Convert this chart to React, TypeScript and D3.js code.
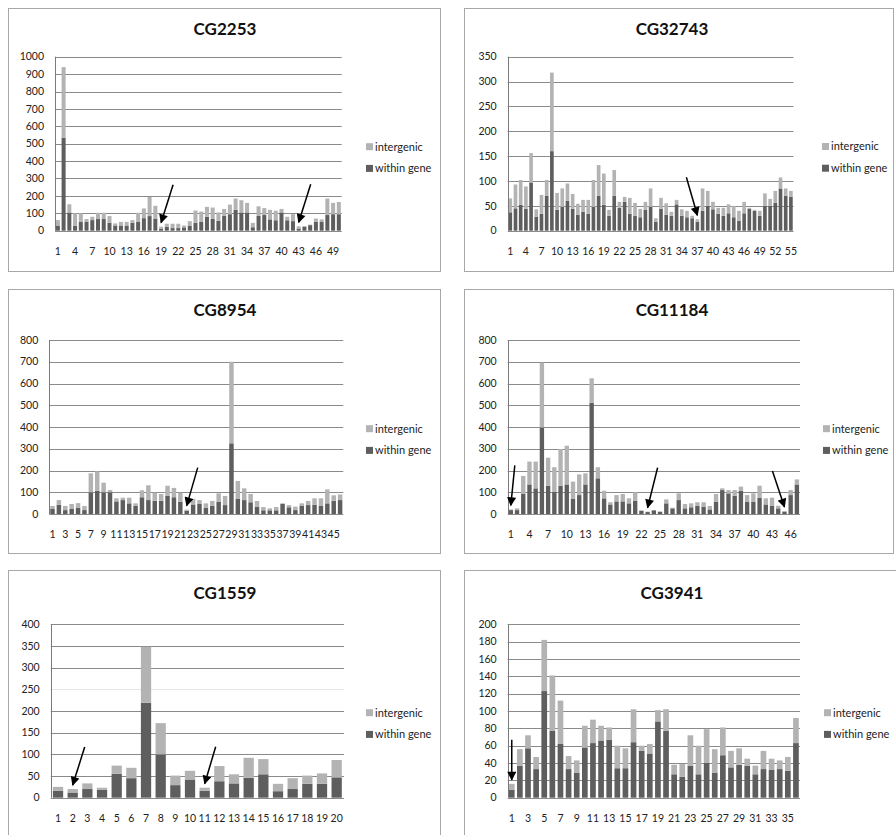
import React from "react";
import * as d3 from "d3";

// ---------- data: "within gene" and "intergenic" counts per position ----------
const cg2253Within = [30, 535, 105, 29, 50, 50, 61, 67, 67, 46, 30, 30, 30, 46, 50, 72, 84, 70, 11, 23, 15, 15, 19, 27, 46, 50, 80, 69, 57, 85, 95, 120, 105, 105, 20, 85, 90, 65, 60, 105, 60, 55, 12, 22, 32, 50, 50, 90, 95, 95];
const cg2253Intergenic = [31, 405, 47, 71, 50, 17, 19, 36, 36, 38, 12, 21, 21, 15, 53, 56, 110, 73, 12, 17, 25, 25, 11, 28, 70, 60, 57, 64, 48, 40, 55, 65, 70, 55, 25, 55, 40, 55, 55, 20, 20, 40, 13, 5, 3, 20, 15, 95, 65, 70];

const cg32743Within = [37, 45, 52, 44, 97, 28, 34, 70, 160, 42, 48, 60, 44, 32, 38, 34, 48, 70, 52, 30, 70, 46, 58, 34, 30, 27, 42, 48, 18, 44, 32, 30, 53, 30, 27, 25, 18, 40, 50, 43, 34, 30, 35, 27, 20, 35, 44, 40, 30, 50, 50, 56, 85, 70, 68];
const cg32743Intergenic = [28, 48, 50, 45, 59, 15, 38, 32, 158, 34, 37, 35, 30, 22, 24, 28, 54, 62, 63, 12, 52, 12, 10, 32, 26, 17, 16, 37, 7, 22, 23, 8, 9, 13, 13, 5, 5, 45, 30, 15, 12, 16, 18, 23, 20, 23, 2, 2, 10, 25, 14, 24, 22, 15, 12];

const cg8954Within = [23, 43, 18, 23, 28, 18, 100, 107, 100, 100, 58, 64, 49, 38, 77, 64, 61, 61, 84, 77, 57, 15, 44, 46, 28, 38, 57, 41, 325, 69, 64, 54, 34, 17, 17, 17, 47, 31, 18, 37, 41, 43, 37, 49, 61, 64];
const cg8954Intergenic = [14, 21, 19, 23, 22, 19, 87, 89, 44, 10, 14, 11, 26, 11, 32, 68, 37, 31, 46, 43, 41, 5, 26, 18, 21, 22, 38, 42, 375, 83, 54, 38, 26, 15, 9, 15, 2, 10, 16, 12, 19, 29, 35, 64, 25, 26];

const cg11184Within = [18, 18, 92, 136, 118, 398, 130, 103, 130, 136, 69, 87, 136, 512, 164, 72, 44, 58, 58, 49, 60, 14, 9, 17, 10, 49, 26, 64, 26, 31, 37, 34, 21, 57, 110, 95, 84, 107, 57, 57, 75, 44, 37, 26, 11, 87, 136];
const cg11184Intergenic = [3, 8, 83, 105, 123, 298, 129, 112, 169, 178, 80, 95, 51, 112, 51, 35, 10, 29, 34, 23, 40, 3, 2, 1, 2, 18, 3, 31, 20, 18, 17, 20, 16, 35, 8, 15, 26, 19, 30, 38, 55, 28, 38, 12, 3, 23, 23];

const cg1559Within = [16, 12, 20, 18, 55, 45, 219, 100, 29, 42, 16, 38, 33, 46, 54, 15, 20, 32, 32, 47];
const cg1559Intergenic = [9, 8, 13, 5, 19, 24, 129, 72, 22, 20, 7, 35, 21, 46, 35, 17, 25, 19, 24, 40];

const cg3941Within = [9, 37, 57, 33, 123, 77, 62, 33, 29, 58, 63, 66, 67, 34, 34, 64, 54, 51, 88, 77, 27, 24, 37, 27, 40, 29, 49, 35, 38, 37, 27, 33, 32, 33, 31, 63];
const cg3941Intergenic = [7, 19, 15, 14, 59, 64, 50, 15, 14, 25, 27, 17, 14, 26, 23, 38, 6, 11, 13, 25, 11, 15, 35, 33, 39, 27, 32, 19, 19, 8, 10, 21, 13, 10, 16, 29];

const seriesNames = ["intergenic", "within gene"];

// ---------- styles ----------
const DARK = "#5e5e5e";
const LIGHT = "#b3b3b3";
const GRID = "#8a8a8a";
const FONT = "Lato, 'Open Sans', 'DejaVu Sans', sans-serif";

type Arrow = { bar: number; dx: number; dy: number };
type PanelCfg = {
  title: string;
  within: number[];
  intergenic: number[];
  yMax: number;
  yStep: number;
  labelEvery: number;
  box: [number, number, number, number];
  plot: { left: number; right: number; top: number; bottom: number };
  titleX: number;
  titleY: number;
  legendX: number;
  legendY: number;
  arrows: Arrow[];
  faintTick?: number;
};

const panels: PanelCfg[] = [
  {
    title: "CG2253", within: cg2253Within, intergenic: cg2253Intergenic,
    yMax: 1000, yStep: 100, labelEvery: 3,
    box: [8, 8, 432, 263], plot: { left: 55, right: 341.7, top: 56.7, bottom: 230.7 },
    titleX: 225, titleY: 35, legendX: 366, legendY: 146.7,
    arrows: [{ bar: 19, dx: 12, dy: -38 }, { bar: 43, dx: 12, dy: -38 }],
  },
  {
    title: "CG32743", within: cg32743Within, intergenic: cg32743Intergenic,
    yMax: 350, yStep: 50, labelEvery: 3,
    box: [464, 8, 429, 263], plot: { left: 507.7, right: 793.5, top: 56.7, bottom: 230.7 },
    titleX: 672, titleY: 35, legendX: 822, legendY: 146.5,
    arrows: [{ bar: 37, dx: -11, dy: -38 }],
  },
  {
    title: "CG8954", within: cg8954Within, intergenic: cg8954Intergenic,
    yMax: 800, yStep: 100, labelEvery: 2,
    box: [8, 289, 432, 264], plot: { left: 49.3, right: 343.3, top: 340, bottom: 514 },
    titleX: 225, titleY: 316, legendX: 366, legendY: 428.7,
    arrows: [{ bar: 22, dx: 11, dy: -38 }],
  },
  {
    title: "CG11184", within: cg11184Within, intergenic: cg11184Intergenic,
    yMax: 800, yStep: 100, labelEvery: 3,
    box: [464, 289, 429, 264], plot: { left: 507.7, right: 800, top: 340, bottom: 514 },
    titleX: 672, titleY: 316, legendX: 823, legendY: 428.7,
    arrows: [{ bar: 1, dx: 4, dy: -40 }, { bar: 23, dx: 10, dy: -40 }, { bar: 45, dx: -12, dy: -36 }],
  },
  {
    title: "CG1559", within: cg1559Within, intergenic: cg1559Intergenic,
    yMax: 400, yStep: 50, labelEvery: 1,
    box: [8, 570, 432, 280], plot: { left: 50.7, right: 344, top: 624.3, bottom: 797.7 },
    titleX: 225, titleY: 599, legendX: 366, legendY: 712.7,
    arrows: [{ bar: 2, dx: 12, dy: -38 }, { bar: 11, dx: 11, dy: -37 }],
    faintTick: 250,
  },
  {
    title: "CG3941", within: cg3941Within, intergenic: cg3941Intergenic,
    yMax: 200, yStep: 20, labelEvery: 2,
    box: [464, 570, 440, 280], plot: { left: 507.7, right: 800, top: 624.3, bottom: 797.7 },
    titleX: 672, titleY: 599, legendX: 824, legendY: 712.7,
    arrows: [{ bar: 1, dx: 0, dy: -40 }],
  },
];

function Panel({ cfg, idx }: { cfg: PanelCfg; idx: number }) {
  const { plot } = cfg;
  const n = cfg.within.length;
  const cats = d3.range(1, n + 1).map(String);
  const x = d3
    .scaleBand<string>()
    .domain(cats)
    .range([plot.left, plot.right])
    .paddingInner(0.3)
    .paddingOuter(0.15);
  const y = d3.scaleLinear().domain([0, cfg.yMax]).range([plot.bottom, plot.top]);
  const ticks = d3.range(0, cfg.yMax + cfg.yStep / 2, cfg.yStep);
  const stacked = d3
    .stack<number>()
    .keys(["within", "intergenic"])
    .value((i, key) => (key === "within" ? cfg.within[i] : cfg.intergenic[i]))(d3.range(n));
  const colors = [DARK, LIGHT];
  const [bx, by, bw, bh] = cfg.box;

  return (
    <g>
      <rect x={bx + 0.5} y={by + 0.5} width={bw} height={bh} fill="#fff" stroke="#a8a8a8" strokeWidth={1} />
      <text x={cfg.titleX} y={cfg.titleY} textAnchor="middle" fontFamily={FONT} fontWeight={700} fontSize={17} fill="#111">
        {cfg.title}
      </text>
      {ticks.map((t) => (
        <g key={t}>
          <line
            x1={plot.left}
            x2={plot.right}
            y1={Math.round(y(t)) + 0.5}
            y2={Math.round(y(t)) + 0.5}
            stroke={cfg.faintTick === t ? "#e6e6e6" : GRID}
            strokeWidth={1}
          />
          <text x={plot.left - 11} y={y(t)} dy="0.35em" textAnchor="end" fontFamily={FONT} fontSize={10.5} fill="#222">
            {t}
          </text>
        </g>
      ))}
      {stacked.map((layer, li) => (
        <g key={li} fill={colors[li]}>
          {layer.map((d, i) => (
            <rect
              key={i}
              x={x(cats[i])!}
              width={x.bandwidth()}
              y={y(d[1])}
              height={Math.max(0, y(d[0]) - y(d[1]))}
            />
          ))}
        </g>
      ))}
      <line x1={Math.round(plot.left) + 0.5} x2={Math.round(plot.left) + 0.5} y1={plot.top} y2={plot.bottom} stroke="#7a7a7a" strokeWidth={1} />
      {cats.map((c, i) =>
        i % cfg.labelEvery === 0 ? (
          <text
            key={c}
            x={x(c)! + x.bandwidth() / 2}
            y={plot.bottom + 24}
            textAnchor="middle"
            fontFamily={FONT}
            fontSize={10.5}
            fill="#222"
          >
            {c}
          </text>
        ) : null
      )}
      <defs>
        <marker id={`ah${idx}`} viewBox="0 0 10 10" refX={9} refY={5} markerWidth={7} markerHeight={6} orient="auto">
          <path d="M0,0 L10,5 L0,10 z" fill="#000" />
        </marker>
      </defs>
      {cfg.arrows.map((a, k) => {
        const i = a.bar - 1;
        const tx = x(cats[i])! + x.bandwidth() / 2;
        const ty = y(cfg.within[i] + cfg.intergenic[i]) - 4;
        return (
          <line
            key={k}
            x1={tx + a.dx}
            y1={ty + a.dy}
            x2={tx}
            y2={ty}
            stroke="#000"
            strokeWidth={1.5}
            markerEnd={`url(#ah${idx})`}
          />
        );
      })}
      {seriesNames.map((s, k) => (
        <g key={s}>
          <rect x={cfg.legendX} y={cfg.legendY + k * 21.7 - 3.5} width={7} height={7} fill={k === 0 ? LIGHT : DARK} />
          <text x={cfg.legendX + 9} y={cfg.legendY + k * 21.7} dy="0.35em" fontFamily={FONT} fontSize={11} fill="#222">
            {s}
          </text>
        </g>
      ))}
    </g>
  );
}

export default function App() {
  return (
    <svg
      width={896}
      height={835}
      style={{ position: "absolute", left: 0, top: 0, background: "#fff" }}
    >
      <rect x={0} y={0} width={896} height={835} fill="#fff" />
      {panels.map((p, i) => (
        <Panel key={p.title} cfg={p} idx={i} />
      ))}
    </svg>
  );
}
